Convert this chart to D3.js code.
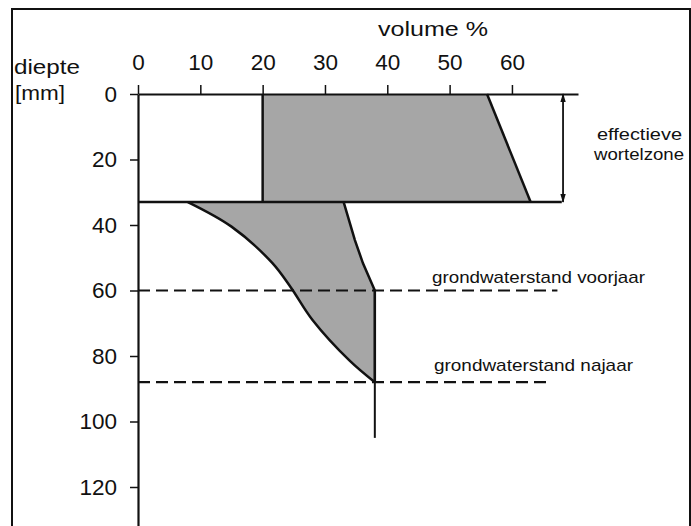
<!DOCTYPE html>
<html>
<head>
  <meta charset="utf-8">
  <title>diepte / volume %</title>
  <style>
    body { margin: 0; background: #fff; }
    text { font-family: "Liberation Sans", Arial, sans-serif; fill: #111; }
  </style>
</head>
<body>
  <svg id="svg"></svg>

  <script src="https://d3js.org/d3.v7.min.js"></script>
  <script>
    // axis ticks
    const volTicks = [0, 10, 20, 30, 40, 50, 60];
    const depthTicks = [0, 20, 40, 60, 80, 100, 120];

    // effective root zone block: [volume %, depth mm]
    const rootZone = [[20, 0], [56, 0], [63, 33], [20, 33]];
    const rootZoneBottom = 33;

    // capillary zone below root zone
    const capLeft = [[8, 33], [15, 40.5], [21.5, 51.5], [24.5, 59], [28, 69], [34, 81.5], [38, 88]];
    const capRight = [[33, 33], [34.8, 44.6], [36.1, 51.7], [38, 60], [38, 88]];
    const stemLine = [[38, 60], [38, 105]];

    // groundwater levels
    const gwLevels = [
      { label: "grondwaterstand voorjaar", depth: 60, end: 67.3 },
      { label: "grondwaterstand najaar", depth: 88, end: 66 }
    ];
    const rootLineEnd = 68;
    const arrowVol = 68.2;

    const width = 691, height = 526;
    const svg = d3.select("#svg").attr("width", width).attr("height", height);

    const x = d3.scaleLinear().domain([0, 70.6]).range([138, 578]);
    const y = d3.scaleLinear().domain([0, 132]).range([94, 526.3]);

    // frame
    svg.append("rect")
      .attr("x", 12).attr("y", 9)
      .attr("width", 678).attr("height", 530)
      .attr("fill", "none").attr("stroke", "#111").attr("stroke-width", 2);

    const line = d3.line().x(d => x(d[0])).y(d => y(d[1]));
    const curve = d3.line().x(d => x(d[0])).y(d => y(d[1])).curve(d3.curveCatmullRom);

    // fills
    const grey = "#a6a6a6";
    svg.append("path")
      .attr("d", line(rootZone) + "Z")
      .attr("fill", grey);

    const capPath = curve(capLeft) + "L" + line(capRight.slice().reverse()).slice(1) + "Z";
    svg.append("path").attr("d", capPath).attr("fill", grey);

    // outlines
    const ink = "#111";
    const stroke = (pts, w, gen) => svg.append("path").attr("d", (gen || line)(pts))
      .attr("stroke", ink).attr("stroke-width", w).attr("fill", "none");
    stroke([[20, 0], [20, rootZoneBottom]], 2.5);
    stroke([rootZone[1], rootZone[2]], 2.5);
    stroke([[0, rootZoneBottom], [rootLineEnd, rootZoneBottom]], 2.5);
    stroke(capLeft, 2.5, curve);
    stroke(capRight, 2.5);
    stroke(stemLine, 2);

    // groundwater dashed lines
    gwLevels.forEach(g => {
      stroke([[0, g.depth], [g.end, g.depth]], 2.2).attr("stroke-dasharray", "12,6");
    });

    // axes
    const xAxis = svg.append("g")
      .attr("transform", `translate(0,${y(0)})`)
      .call(d3.axisTop(x).tickValues(volTicks).tickSize(9).tickSizeOuter(0).tickPadding(15));
    const yAxis = svg.append("g")
      .attr("transform", `translate(${x(0)},0)`)
      .call(d3.axisLeft(y).tickValues(depthTicks).tickSize(8).tickSizeOuter(0).tickPadding(13));
    [xAxis, yAxis].forEach(a => {
      a.select(".domain").attr("stroke", ink).attr("stroke-width", 2.2);
      a.selectAll(".tick line").attr("stroke", ink).attr("stroke-width", 1.5);
      a.selectAll("text").attr("font-size", 22.5).attr("fill", ink)
        .attr("font-family", '"Liberation Sans", Arial, sans-serif');
    });

    // arrow for root zone
    const defs = svg.append("defs");
    defs.append("marker").attr("id", "ah")
      .attr("viewBox", "0 0 10 10").attr("refX", 9).attr("refY", 5)
      .attr("markerWidth", 5).attr("markerHeight", 5).attr("orient", "auto-start-reverse")
      .append("path").attr("d", "M0,2L10,5L0,8Z").attr("fill", ink);
    stroke([[arrowVol, 0], [arrowVol, rootZoneBottom]], 1.8)
      .attr("marker-start", "url(#ah)").attr("marker-end", "url(#ah)");

    // labels
    const label = (txt, px, py, size, len, anchor) => svg.append("text")
      .attr("x", px).attr("y", py).attr("font-size", size)
      .attr("text-anchor", anchor || "start")
      .attr("textLength", len).attr("lengthAdjust", "spacingAndGlyphs").text(txt);

    label("volume %", 378, 36, 21, 110);
    label("diepte", 14, 74, 20, 66);
    label("[mm]", 15, 100, 20, 50);
    label("effectieve", 682, 140, 17, 85, "end");
    label("wortelzone", 684, 160, 17, 90, "end");
    label(gwLevels[0].label, 432, 283, 17, 213);
    label(gwLevels[1].label, 434, 371, 17, 199);
  </script>
</body>
</html>
